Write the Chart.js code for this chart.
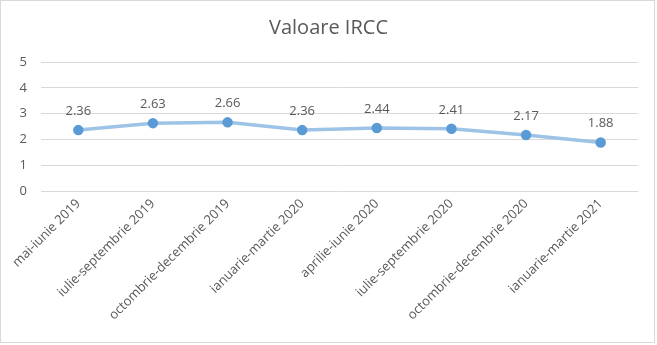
<!DOCTYPE html>
<html>
<head>
<meta charset="utf-8">
<script src="https://cdn.jsdelivr.net/npm/chart.js@4/dist/chart.umd.min.js"></script>
<style>
  html, body { margin: 0; padding: 0; background: #fff; }
  #wrap { position: relative; width: 657px; height: 345px; }
  #frame { position: absolute; left: 0; top: 0; width: 653px; height: 341px; border: 1px solid #d9d9d9; pointer-events: none; }
  canvas { position: absolute; left: 0; top: 0; }
</style>
</head>
<body>
<div id="wrap">
  <canvas id="c" width="657" height="345"></canvas>
  <div id="frame"></div>
</div>
<script>
const categories = [
  "mai-iunie 2019",
  "iulie-septembrie 2019",
  "octombrie-decembrie 2019",
  "ianuarie-martie 2020",
  "aprilie-iunie 2020",
  "iulie-septembrie 2020",
  "octombrie-decembrie 2020",
  "ianuarie-martie 2021"
];
const irccValues = [2.36, 2.63, 2.66, 2.36, 2.44, 2.41, 2.17, 1.88];
const yTicks = [0, 1, 2, 3, 4, 5];
const chartTitle = "Valoare IRCC";

const textColor = "#595959";
const fontFamily = "'Open Sans', 'Liberation Sans', sans-serif";

const valueLabels = {
  id: "valueLabels",
  afterDatasetsDraw(chart) {
    const ctx = chart.ctx;
    const meta = chart.getDatasetMeta(0);
    ctx.save();
    ctx.fillStyle = textColor;
    ctx.font = "13px " + fontFamily;
    ctx.textAlign = "center";
    ctx.textBaseline = "middle";
    meta.data.forEach((pt, i) => {
      ctx.fillText(irccValues[i].toFixed(2), pt.x, pt.y - 19);
    });
    ctx.restore();
  }
};

const centeredTitle = {
  id: "centeredTitle",
  afterDraw(chart) {
    const ctx = chart.ctx;
    ctx.save();
    ctx.fillStyle = textColor;
    ctx.font = "20px " + fontFamily;
    ctx.textAlign = "center";
    ctx.textBaseline = "middle";
    ctx.fillText(chartTitle, chart.width / 2, 28.5);
    ctx.restore();
  }
};

new Chart(document.getElementById("c"), {
  type: "line",
  data: {
    labels: categories,
    datasets: [{
      data: irccValues,
      borderColor: "#9dc3e6",
      borderWidth: 3.5,
      pointBackgroundColor: "#5b9bd5",
      pointBorderColor: "#5b9bd5",
      pointRadius: 3.5,
      tension: 0,
      fill: false
    }]
  },
  options: {
    responsive: false,
    animation: false,
    layout: { padding: { left: 0, right: 19, top: 62, bottom: 0 } },
    plugins: {
      legend: { display: false },
      tooltip: { enabled: false },
      title: { display: false }
    },
    scales: {
      x: {
        offset: true,
        grid: { display: false },
        border: { display: false },
        ticks: {
          color: textColor,
          font: { family: fontFamily, size: 13 },
          minRotation: 45,
          maxRotation: 45,
          autoSkip: false,
          padding: -3
        },
        afterFit(scale) { scale.height = 154; }
      },
      y: {
        min: 0,
        max: 5,
        afterBuildTicks(scale) { scale.ticks = yTicks.map(v => ({ value: v })); },
        grid: { color: "#d9d9d9", lineWidth: 1, drawTicks: false },
        border: { display: false },
        ticks: {
          color: textColor,
          font: { family: fontFamily, size: 13 },
          padding: 14
        },
        afterFit(scale) { scale.width = 41; }
      }
    }
  },
  plugins: [valueLabels, centeredTitle]
});
</script>
</body>
</html>
